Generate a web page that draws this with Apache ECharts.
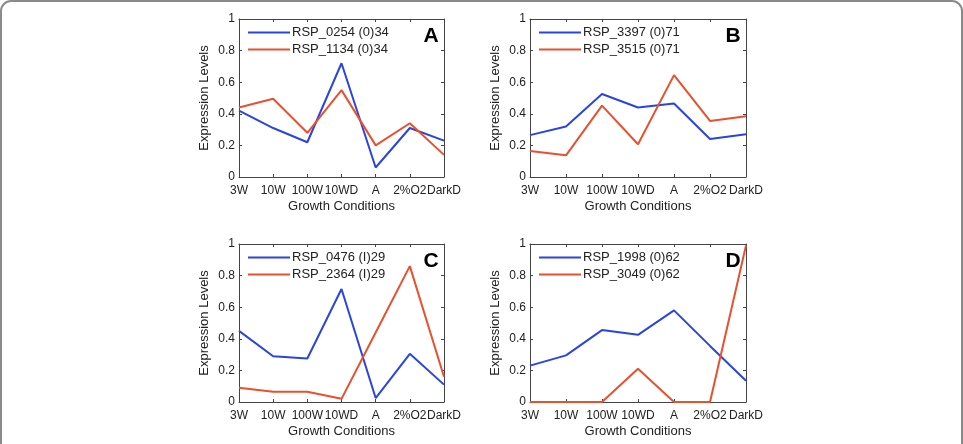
<!DOCTYPE html>
<html>
<head>
<meta charset="utf-8">
<script src="https://cdn.jsdelivr.net/npm/echarts@6/dist/echarts.min.js"></script>
<style>
  html, body { margin: 0; padding: 0; background: #fff; }
  #chart { width: 963px; height: 444px; }
</style>
</head>
<body>
<div id="chart"></div>
<script>
// growth conditions (x axis)
const conditions = ['3W', '10W', '100W', '10WD', 'A', '2%O2', 'DarkD']
const yTicks = [0, 0.2, 0.4, 0.6, 0.8, 1]

// panel A
const namesA = ['RSP_0254 (0)34', 'RSP_1134 (0)34']
const blueA = [0.42, 0.31, 0.22, 0.72, 0.06, 0.31, 0.23]
const redA = [0.44, 0.495, 0.28, 0.55, 0.20, 0.34, 0.14]
// panel B
const namesB = ['RSP_3397 (0)71', 'RSP_3515 (0)71']
const blueB = [0.265, 0.32, 0.525, 0.44, 0.465, 0.24, 0.27]
const redB = [0.165, 0.137, 0.452, 0.207, 0.645, 0.355, 0.385]
// panel C
const namesC = ['RSP_0476 (I)29', 'RSP_2364 (I)29']
const blueC = [0.45, 0.29, 0.275, 0.715, 0.025, 0.305, 0.11]
const redC = [0.09, 0.065, 0.065, 0.02, 0.44, 0.86, 0.16]
// panel D
const namesD = ['RSP_1998 (0)62', 'RSP_3049 (0)62']
const blueD = [0.23, 0.295, 0.455, 0.425, 0.58, 0.355, 0.135]
const redD = [0, 0, 0, 0.21, 0, 0, 0.99]

const BLUE = '#2a44e0'
const RED = '#e8502e'
const FONT = 'Liberation Sans, Arial, sans-serif'

const panels = [
  { tag: 'A', names: namesA, blue: blueA, red: redA, left: 239, top: 19, width: 205, height: 158 },
  { tag: 'B', names: namesB, blue: blueB, red: redB, left: 530, top: 19, width: 216, height: 158 },
  { tag: 'C', names: namesC, blue: blueC, red: redC, left: 239, top: 244, width: 205, height: 158 },
  { tag: 'D', names: namesD, blue: blueD, red: redD, left: 530, top: 244, width: 216, height: 158 },
]

const chart = echarts.init(document.getElementById('chart'))

const grid = [], xAxis = [], yAxis = [], series = [], legend = [], graphic = []

// outer frame
graphic.push({
  type: 'rect',
  shape: { x: 1, y: 1, width: 961, height: 470, r: 10 },
  style: { fill: 'none', stroke: '#8a8a8a', lineWidth: 2 },
  silent: true,
})

panels.forEach((p, i) => {
  grid.push({ left: p.left, top: p.top, width: p.width, height: p.height, containLabel: false })
  const axisLine = { show: true, onZero: false, lineStyle: { color: '#444', width: 1 } }
  const tick = { show: true, inside: true, length: 3, interval: 0, lineStyle: { color: '#444' } }
  // bottom x
  xAxis.push({
    gridIndex: i, type: 'category', data: conditions, boundaryGap: false, position: 'bottom',
    axisLine, axisTick: tick,
    axisLabel: { interval: 0, hideOverlap: false, color: '#222', fontSize: 12, fontFamily: FONT, margin: 8 },
    name: 'Growth Conditions', nameLocation: 'middle', nameGap: 23,
    nameTextStyle: { color: '#222', fontSize: 13, fontFamily: FONT },
    splitLine: { show: false },
  })
  // top x (mirror ticks)
  xAxis.push({
    gridIndex: i, type: 'category', data: conditions, boundaryGap: false, position: 'top',
    axisLine, axisTick: tick, axisLabel: { show: false }, splitLine: { show: false },
  })
  // left y
  yAxis.push({
    gridIndex: i, type: 'value', min: 0, max: 1, interval: 0.2, position: 'left',
    axisLine, axisTick: tick,
    axisLabel: { color: '#222', fontSize: 12, fontFamily: FONT, margin: 4 },
    name: 'Expression Levels', nameLocation: 'middle', nameGap: 28, nameRotate: 90,
    nameTextStyle: { color: '#222', fontSize: 13, fontFamily: FONT },
    splitLine: { show: false },
  })
  // right y (mirror ticks)
  yAxis.push({
    gridIndex: i, type: 'value', min: 0, max: 1, interval: 0.2, position: 'right',
    axisLine, axisTick: tick, axisLabel: { show: false }, splitLine: { show: false },
  })

  const mk = (name, data, color) => ({
    name, type: 'line', data,
    xAxisIndex: i * 2, yAxisIndex: i * 2,
    showSymbol: false, symbol: 'none',
    lineStyle: { color, width: 2 },
    itemStyle: { color },
    animation: false,
  })
  series.push(mk(p.names[0], p.blue, BLUE))
  series.push(mk(p.names[1], p.red, RED))

  legend.push({
    data: p.names.map(n => ({ name: n, icon: 'rect' })),
    orient: 'vertical',
    left: p.left + 9,
    top: p.top + 7,
    padding: 0,
    itemWidth: 42,
    itemHeight: 2,
    itemGap: 4,
    selectedMode: false,
    textStyle: { color: '#222', fontSize: 13, fontFamily: FONT, padding: [0, 0, 0, -3] },
  })

  graphic.push({
    type: 'text',
    x: p.left + p.width - 13,
    y: p.top + 17,
    style: {
      text: p.tag, fill: '#000', font: 'bold 21px ' + FONT,
      textAlign: 'center', textVerticalAlign: 'middle',
    },
    silent: true,
  })
})

chart.setOption({
  backgroundColor: '#fff',
  animation: false,
  grid, xAxis, yAxis, series, legend, graphic,
})
</script>
</body>
</html>
